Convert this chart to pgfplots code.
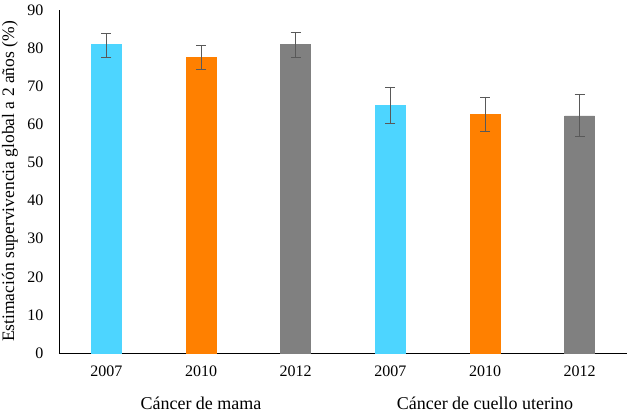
\documentclass[border=0pt]{standalone}
\usepackage{fontspec}
\setmainfont{Liberation Serif}
\usepackage{pgfplots}
\pgfplotsset{compat=1.18}
\definecolor{cyanbar}{HTML}{4DD5FF}
\definecolor{orangebar}{HTML}{FF8000}
\definecolor{graybar}{HTML}{808080}
\definecolor{errc}{HTML}{595959}
\begin{document}
\begin{tikzpicture}
\begin{axis}[
  width=568pt, height=343pt, scale only axis,
  xmin=-0.5, xmax=5.5, ymin=0, ymax=90,
  axis x line*=bottom, axis y line*=left,
  axis line style={-, black, line width=0.8pt},
  xtick={0,1,2,3,4,5},
  xticklabels={2007,2010,2012,2007,2010,2012},
  ytick={0,10,...,90},
  major tick length=0pt,
  tick label style={font=\fontsize{16}{18}\selectfont},
  /pgf/number format/assume math mode=true,
  yticklabel style={xshift=-12pt},
  xticklabel style={yshift=-9pt},
  ylabel={Estimación supervivencia global a 2 años (\%)},
  ylabel style={font=\fontsize{17.5}{20}\selectfont, at={([xshift=-49pt]axis description cs:0,0.5)}, anchor=center},
  ybar, bar width=30pt, bar shift=0pt,
  clip=false,
  error bars/y dir=both, error bars/y explicit,
  error bars/error bar style={errc, line width=0.7pt},
  error bars/error mark options={rotate=90, mark size=5pt, errc, line width=0.7pt},
]
\addplot[fill=cyanbar, draw=cyanbar] coordinates {
  (0,81.0) +=(0,2.9) -=(0,3.5)
  (3,65.0) +=(0,4.8) -=(0,4.7)
};
\addplot[fill=orangebar, draw=orangebar] coordinates {
  (1,77.5) +=(0,3.2) -=(0,3.2)
  (4,62.7) +=(0,4.5) -=(0,4.5)
};
\addplot[fill=graybar, draw=graybar] coordinates {
  (2,80.9) +=(0,3.2) -=(0,3.2)
  (5,62.2) +=(0,5.6) -=(0,5.3)
};
\node[font=\fontsize{18}{20}\selectfont] at ([yshift=-50pt]axis cs:1,0) {Cáncer de mama};
\node[font=\fontsize{18}{20}\selectfont] at ([yshift=-50pt]axis cs:4,0) {Cáncer de cuello uterino};
\end{axis}
\pgfresetboundingbox
\path[use as bounding box] (-59pt,-61pt) rectangle (569pt,353pt);
\end{tikzpicture}
\end{document}
